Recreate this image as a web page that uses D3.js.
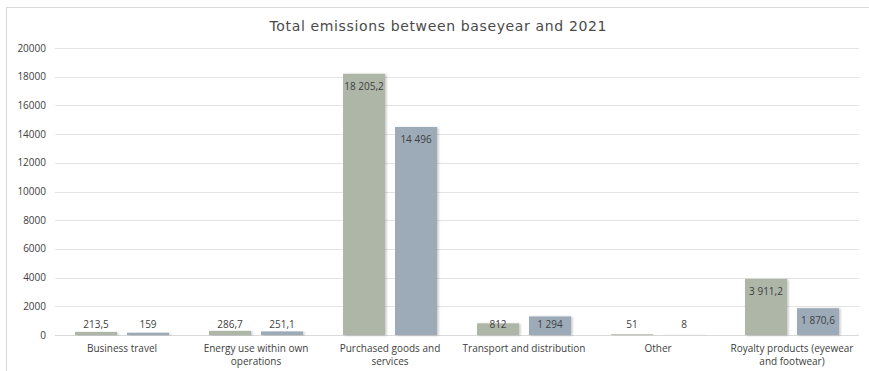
<!DOCTYPE html>
<html>
<head>
<meta charset="utf-8">
<script src="https://cdn.jsdelivr.net/npm/d3@7"></script>
<style>
  html, body { margin: 0; padding: 0; background: #fff; }
  svg { display: block; font-family: "Open Sans", "DejaVu Sans", sans-serif; }
</style>
</head>
<body>
<svg id="chart" width="869" height="371"></svg>
<script>
// Emissions per category: base year vs 2021
const categories = [
  ["Business travel"],
  ["Energy use within own", "operations"],
  ["Purchased goods and", "services"],
  ["Transport and distribution"],
  ["Other"],
  ["Royalty products (eyewear", "and footwear)"]
];
const baseYear = [213.5, 286.7, 18205.2, 812, 51, 3911.2];
const year2021 = [159, 251.1, 14496, 1294, 8, 1870.6];
const valueLabelsBase = ["213,5", "286,7", "18 205,2", "812", "51", "3 911,2"];
const valueLabels2021 = ["159", "251,1", "14 496", "1 294", "8", "1 870,6"];
const yTicks = [0, 2000, 4000, 6000, 8000, 10000, 12000, 14000, 16000, 18000, 20000];
const title = "Total emissions between baseyear and 2021";

const seriesColors = ["#aeb6a8", "#9dabb9"];
const textColor = "#404040";

const svg = d3.select("#chart");
const W = 869, H = 371;
const plot = { left: 55, right: 859, top: 48, bottom: 335 };

// chart frame
svg.append("rect")
  .attr("x", 6.5).attr("y", 7.5)
  .attr("width", W + 10).attr("height", H + 10)
  .attr("fill", "#fff").attr("stroke", "#d9d9d9").attr("stroke-width", 1);

const defs = svg.append("defs");
const f = defs.append("filter").attr("id", "shadow")
  .attr("x", "-20%").attr("y", "-5%").attr("width", "150%").attr("height", "115%");
f.append("feDropShadow").attr("dx", 1.5).attr("dy", 0.5).attr("stdDeviation", 1)
  .attr("flood-color", "#000").attr("flood-opacity", 0.22);

const x = d3.scaleBand().domain(d3.range(categories.length))
  .range([plot.left, plot.right]).paddingInner(0).paddingOuter(0);
const y = d3.scaleLinear().domain([0, 20000]).range([plot.bottom, plot.top]);

// gridlines
svg.append("g").selectAll("line").data(yTicks).join("line")
  .attr("x1", plot.left).attr("x2", plot.right)
  .attr("y1", d => Math.round(y(d)) + 0.5).attr("y2", d => Math.round(y(d)) + 0.5)
  .attr("stroke", d => d === 0 ? "#d9d9d9" : "#e4e4e4").attr("stroke-width", 1);

// y axis labels
svg.append("g").selectAll("text").data(yTicks).join("text")
  .attr("x", 46).attr("y", d => y(d)).attr("dy", "0.35em")
  .attr("text-anchor", "end").attr("font-size", 10).attr("fill", textColor)
  .text(d => d);

// title
svg.append("text").attr("x", 438).attr("y", 31)
  .attr("text-anchor", "middle").attr("font-size", 14).attr("fill", "#4a4a4a")
  .attr("font-family", "'DejaVu Sans', sans-serif")
  .attr("textLength", 337).attr("lengthAdjust", "spacing")
  .text(title);

const barW = 42, gap = 10;
const series = [
  { values: baseYear, labels: valueLabelsBase, offset: -(gap / 2 + barW) },
  { values: year2021, labels: valueLabels2021, offset: gap / 2 }
];

series.forEach((s, si) => {
  const g = svg.append("g");
  g.selectAll("rect").data(s.values).join("rect")
    .attr("x", (d, i) => x(i) + x.bandwidth() / 2 + s.offset)
    .attr("y", d => y(d))
    .attr("width", barW)
    .attr("height", d => y(0) - y(d))
    .attr("fill", seriesColors[si])
    .attr("filter", "url(#shadow)");
  // labels sit inside the bar end, kept clear of the baseline for short bars
  g.selectAll("text").data(s.values).join("text")
    .attr("x", (d, i) => x(i) + x.bandwidth() / 2 + s.offset + barW / 2)
    .attr("y", d => Math.min(y(d) + 12.5, y(0) - 11))
    .attr("dy", "0.35em")
    .attr("text-anchor", "middle").attr("font-size", 10).attr("fill", textColor)
    .text((d, i) => s.labels[i]);
});

// category labels
const cat = svg.append("g").selectAll("text").data(categories).join("text")
  .attr("text-anchor", "middle").attr("font-size", 10).attr("fill", textColor)
  .attr("x", (d, i) => x(i) + x.bandwidth() / 2)
  .attr("y", 352);
cat.selectAll("tspan").data(d => d).join("tspan")
  .attr("x", function () { return d3.select(this.parentNode).attr("x"); })
  .attr("dy", (d, i) => i === 0 ? 0 : 13)
  .text(d => d);
</script>
</body>
</html>
